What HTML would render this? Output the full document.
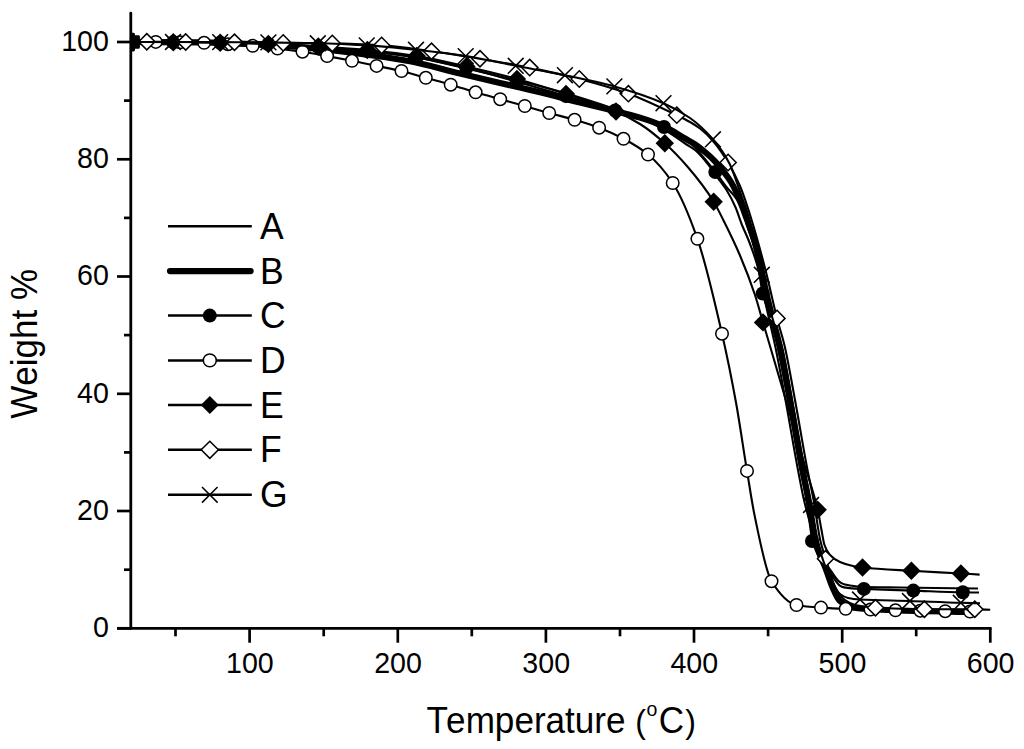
<!DOCTYPE html>
<html><head><meta charset="utf-8"><style>
html,body{margin:0;padding:0;background:#fff;overflow:hidden;}
svg{display:block;}
text{font-family:"Liberation Sans", sans-serif;fill:#000;font-kerning:none;}
</style></head><body>
<svg width="1024" height="749" viewBox="0 0 1024 749">
<rect width="1024" height="749" fill="#fff"/>
<line x1="130.8" y1="13.2" x2="130.8" y2="628.4" stroke="#000" stroke-width="2.8" stroke-linecap="round"/>
<line x1="117" y1="628.4" x2="991.6" y2="628.4" stroke="#000" stroke-width="2.8"/>
<line x1="117.0" y1="628.3" x2="131" y2="628.3" stroke="#000" stroke-width="2.7"/>
<line x1="124.0" y1="569.7" x2="131" y2="569.7" stroke="#000" stroke-width="2.7"/>
<line x1="117.0" y1="511.0" x2="131" y2="511.0" stroke="#000" stroke-width="2.7"/>
<line x1="124.0" y1="452.4" x2="131" y2="452.4" stroke="#000" stroke-width="2.7"/>
<line x1="117.0" y1="393.8" x2="131" y2="393.8" stroke="#000" stroke-width="2.7"/>
<line x1="124.0" y1="335.1" x2="131" y2="335.1" stroke="#000" stroke-width="2.7"/>
<line x1="117.0" y1="276.5" x2="131" y2="276.5" stroke="#000" stroke-width="2.7"/>
<line x1="124.0" y1="217.9" x2="131" y2="217.9" stroke="#000" stroke-width="2.7"/>
<line x1="117.0" y1="159.3" x2="131" y2="159.3" stroke="#000" stroke-width="2.7"/>
<line x1="124.0" y1="100.6" x2="131" y2="100.6" stroke="#000" stroke-width="2.7"/>
<line x1="117.0" y1="42.0" x2="131" y2="42.0" stroke="#000" stroke-width="2.7"/>
<line x1="175.5" y1="628.3" x2="175.5" y2="636.3" stroke="#000" stroke-width="2.7"/>
<line x1="249.6" y1="628.3" x2="249.6" y2="642.7" stroke="#000" stroke-width="2.7"/>
<line x1="323.7" y1="628.3" x2="323.7" y2="636.3" stroke="#000" stroke-width="2.7"/>
<line x1="397.8" y1="628.3" x2="397.8" y2="642.7" stroke="#000" stroke-width="2.7"/>
<line x1="471.8" y1="628.3" x2="471.8" y2="636.3" stroke="#000" stroke-width="2.7"/>
<line x1="545.9" y1="628.3" x2="545.9" y2="642.7" stroke="#000" stroke-width="2.7"/>
<line x1="620.0" y1="628.3" x2="620.0" y2="636.3" stroke="#000" stroke-width="2.7"/>
<line x1="694.0" y1="628.3" x2="694.0" y2="642.7" stroke="#000" stroke-width="2.7"/>
<line x1="768.1" y1="628.3" x2="768.1" y2="636.3" stroke="#000" stroke-width="2.7"/>
<line x1="842.2" y1="628.3" x2="842.2" y2="642.7" stroke="#000" stroke-width="2.7"/>
<line x1="916.2" y1="628.3" x2="916.2" y2="636.3" stroke="#000" stroke-width="2.7"/>
<line x1="990.3" y1="628.3" x2="990.3" y2="642.7" stroke="#000" stroke-width="2.7"/>
<text transform="translate(108.90,637.10) scale(1,1.058)" text-anchor="end" font-size="28.6">0</text>
<text transform="translate(108.90,519.84) scale(1,1.058)" text-anchor="end" font-size="28.6">20</text>
<text transform="translate(108.90,402.58) scale(1,1.058)" text-anchor="end" font-size="28.6">40</text>
<text transform="translate(108.90,285.32) scale(1,1.058)" text-anchor="end" font-size="28.6">60</text>
<text transform="translate(108.90,168.06) scale(1,1.058)" text-anchor="end" font-size="28.6">80</text>
<text transform="translate(108.90,50.80) scale(1,1.058)" text-anchor="end" font-size="28.6">100</text>
<text transform="translate(249.91,672.80) scale(1,1.058)" text-anchor="middle" font-size="28.6">100</text>
<text transform="translate(398.05,672.80) scale(1,1.058)" text-anchor="middle" font-size="28.6">200</text>
<text transform="translate(546.19,672.80) scale(1,1.058)" text-anchor="middle" font-size="28.6">300</text>
<text transform="translate(694.33,672.80) scale(1,1.058)" text-anchor="middle" font-size="28.6">400</text>
<text transform="translate(842.47,672.80) scale(1,1.058)" text-anchor="middle" font-size="28.6">500</text>
<text transform="translate(990.61,672.80) scale(1,1.058)" text-anchor="middle" font-size="28.6">600</text>
<text transform="translate(37.00,343.80) rotate(-90) scale(1,1.04)" text-anchor="middle" font-size="35">Weight %</text>
<text transform="translate(426.50,732.80) scale(1,1.052)" text-anchor="start" font-size="35.1">T<tspan dx="-1.8">emperature</tspan> <tspan font-size="32">(</tspan><tspan dy="-16.3" dx="0.6" font-size="19.5">o</tspan><tspan dy="16.3" dx="1.4">C</tspan><tspan font-size="32" dx="1.0">)</tspan></text>
<defs><clipPath id="pc"><rect x="131" y="0" width="893" height="628.3"/></clipPath></defs>
<g clip-path="url(#pc)">
<path d="M131.00,42.00 C154.00,42.07 177.00,42.08 200.00,42.20 C223.33,42.32 246.67,43.14 270.00,44.00 C296.67,44.99 323.33,47.16 350.00,49.50 C370.00,51.25 390.00,53.48 410.00,56.50 C431.67,59.77 453.33,65.53 475.00,70.50 C502.67,76.85 530.33,83.30 558.00,91.00 C572.00,94.89 586.00,99.40 600.00,104.00 C613.33,108.38 626.67,112.54 640.00,118.00 C648.33,121.41 656.67,125.31 665.00,130.00 C672.17,134.04 679.33,139.78 686.50,144.50 C689.33,146.37 692.17,147.75 695.00,150.00 C698.33,152.65 701.67,156.62 705.00,160.50 C707.33,163.21 709.67,166.34 712.00,169.50 C714.67,173.12 717.33,177.24 720.00,181.00 C722.17,184.05 724.33,186.54 726.50,190.00 C729.53,194.84 732.57,200.58 735.60,207.50 C737.73,212.37 739.87,219.66 742.00,225.00 C744.17,230.42 746.33,234.50 748.50,240.00 C751.17,246.76 753.83,253.67 756.50,262.70 C758.17,268.34 759.83,275.66 761.50,283.00 C763.50,291.80 765.50,302.77 767.50,312.00 C770.00,323.54 772.50,333.10 775.00,345.00 C778.50,361.66 782.00,381.07 785.50,400.00 C789.67,422.53 793.83,448.13 798.00,470.00 C800.00,480.50 802.00,491.37 804.00,500.00 C806.67,511.51 809.33,520.61 812.00,530.00 C814.00,537.04 816.00,545.56 818.00,550.00 C820.00,554.44 822.00,556.74 824.00,560.00 C825.67,562.72 827.33,565.49 829.00,568.00 C830.17,569.76 831.33,571.29 832.50,573.00 C833.50,574.46 834.50,576.17 835.50,577.50 C836.33,578.61 837.17,579.72 838.00,580.50 C839.00,581.44 840.00,582.25 841.00,582.80 C842.33,583.54 843.67,584.14 845.00,584.50 C847.33,585.13 849.67,585.45 852.00,585.80 C854.67,586.20 857.33,586.70 860.00,586.80 C873.33,587.29 886.67,587.30 900.00,587.50 C926.00,587.89 952.00,588.17 978.00,588.50" fill="none" stroke="#000" stroke-width="2.1" stroke-linejoin="round" stroke-linecap="butt"/>
<path d="M131.00,42.00 C154.00,42.13 177.00,42.17 200.00,42.40 C223.33,42.63 246.67,43.78 270.00,45.00 C296.67,46.39 323.33,49.24 350.00,52.30 C370.00,54.60 390.00,57.56 410.00,61.30 C426.67,64.42 443.33,69.51 460.00,73.50 C480.00,78.29 500.00,82.90 520.00,87.60 C526.67,89.17 533.33,90.68 540.00,92.30 C553.33,95.55 566.67,99.18 580.00,102.50 C590.00,104.99 600.00,107.29 610.00,109.80 C620.00,112.31 630.00,114.54 640.00,117.60 C648.00,120.05 656.00,122.80 664.00,126.40 C671.00,129.55 678.00,134.45 685.00,138.50 C688.33,140.43 691.67,142.09 695.00,144.30 C698.33,146.51 701.67,149.19 705.00,152.00 C708.33,154.81 711.67,157.79 715.00,161.30 C718.33,164.81 721.67,168.99 725.00,173.40 C727.00,176.04 729.00,178.72 731.00,182.00 C733.00,185.28 735.00,189.45 737.00,193.50 C739.17,197.89 741.33,201.90 743.50,207.50 C745.33,212.23 747.17,219.33 749.00,225.00 C751.33,232.21 753.67,237.64 756.00,246.00 C757.83,252.57 759.67,261.53 761.50,270.00 C763.00,276.93 764.50,285.35 766.00,292.00 C768.33,302.34 770.67,310.78 773.00,320.00 C775.13,328.43 777.27,335.60 779.40,345.00 C782.93,360.57 786.47,380.99 790.00,400.00 C794.17,422.42 798.33,448.34 802.50,470.00 C804.53,480.57 806.57,489.20 808.60,500.00 C810.90,512.22 813.20,530.45 815.50,540.00 C817.00,546.23 818.50,550.83 820.00,555.00 C821.83,560.10 823.67,563.35 825.50,568.00 C827.77,573.75 830.03,581.61 832.30,586.70 C834.77,592.24 837.23,598.32 839.70,600.70 C842.47,603.37 845.23,605.10 848.00,606.00 C852.00,607.30 856.00,608.14 860.00,608.50 C873.33,609.71 886.67,610.10 900.00,610.50 C925.00,611.25 950.00,611.50 975.00,612.00" fill="none" stroke="#000" stroke-width="6.2" stroke-linejoin="round" stroke-linecap="round"/>
<path d="M131.00,42.00 C144.00,42.07 157.00,42.11 170.00,42.20 C186.00,42.31 202.00,42.52 218.00,42.80 C234.67,43.09 251.33,43.66 268.00,44.30 C284.67,44.94 301.33,45.92 318.00,47.00 C334.33,48.06 350.67,49.36 367.00,51.00 C383.60,52.67 400.20,54.82 416.80,57.50 C433.33,60.17 449.87,64.06 466.40,68.00 C482.93,71.94 499.47,76.84 516.00,81.50 C532.53,86.16 549.07,91.17 565.60,96.00 C582.13,100.83 598.67,105.58 615.20,110.50 C623.47,112.96 631.73,115.23 640.00,118.00 C648.00,120.68 656.00,123.35 664.00,127.00 C672.00,130.65 680.00,134.88 688.00,141.00 C697.10,147.97 706.20,160.61 715.30,172.00 C718.87,176.46 722.43,181.98 726.00,186.50 C729.50,190.94 733.00,193.31 736.50,199.00 C739.33,203.61 742.17,212.47 745.00,220.00 C747.33,226.20 749.67,232.17 752.00,240.00 C753.83,246.15 755.67,253.15 757.50,262.00 C759.23,270.37 760.97,286.08 762.70,293.50 C765.47,305.35 768.23,310.24 771.00,320.00 C773.13,327.53 775.27,335.60 777.40,345.00 C780.93,360.57 784.47,380.99 788.00,400.00 C792.17,422.42 796.33,448.34 800.50,470.00 C802.53,480.57 804.57,488.28 806.60,500.00 C808.57,511.34 810.53,533.57 812.50,541.00 C814.00,546.67 815.50,549.93 817.00,553.00 C818.83,556.75 820.67,559.32 822.50,562.00 C824.00,564.20 825.50,565.93 827.00,568.00 C828.17,569.61 829.33,571.20 830.50,573.00 C831.50,574.54 832.50,576.52 833.50,578.00 C834.50,579.48 835.50,580.79 836.50,582.00 C837.50,583.21 838.50,584.63 839.50,585.30 C841.00,586.31 842.50,587.09 844.00,587.40 C846.67,587.96 849.33,588.23 852.00,588.40 C855.97,588.66 859.93,588.75 863.90,588.90 C880.37,589.54 896.83,590.03 913.30,590.60 C929.80,591.17 946.30,592.02 962.80,592.30 C968.20,592.39 973.60,592.43 979.00,592.50" fill="none" stroke="#000" stroke-width="2.1" stroke-linejoin="round" stroke-linecap="butt"/>
<circle cx="131.0" cy="42.0" r="7.0" fill="#000"/>
<circle cx="173.3" cy="42.2" r="7.0" fill="#000"/>
<circle cx="220.2" cy="42.8" r="7.0" fill="#000"/>
<circle cx="268.4" cy="44.3" r="7.0" fill="#000"/>
<circle cx="318.3" cy="47.0" r="7.0" fill="#000"/>
<circle cx="367.4" cy="51.0" r="7.0" fill="#000"/>
<circle cx="416.6" cy="57.5" r="7.0" fill="#000"/>
<circle cx="466.4" cy="68.0" r="7.0" fill="#000"/>
<circle cx="516.9" cy="81.8" r="7.0" fill="#000"/>
<circle cx="566.0" cy="96.1" r="7.0" fill="#000"/>
<circle cx="615.2" cy="110.5" r="7.0" fill="#000"/>
<circle cx="664.0" cy="127.0" r="7.0" fill="#000"/>
<circle cx="715.3" cy="172.0" r="7.0" fill="#000"/>
<circle cx="762.7" cy="293.5" r="7.0" fill="#000"/>
<circle cx="812.0" cy="541.0" r="7.0" fill="#000"/>
<circle cx="863.9" cy="588.9" r="7.0" fill="#000"/>
<circle cx="913.3" cy="590.6" r="7.0" fill="#000"/>
<circle cx="962.8" cy="592.3" r="7.0" fill="#000"/>
<path d="M131.00,42.00 C139.27,41.97 147.53,41.90 155.80,41.90 C163.87,41.90 171.93,42.15 180.00,42.30 C188.03,42.45 196.07,42.55 204.10,42.80 C212.07,43.04 220.03,43.71 228.00,44.20 C236.23,44.71 244.47,45.12 252.70,45.80 C260.97,46.48 269.23,47.62 277.50,48.60 C285.83,49.58 294.17,50.48 302.50,51.70 C310.70,52.90 318.90,54.59 327.10,56.10 C335.40,57.62 343.70,59.16 352.00,60.80 C360.20,62.42 368.40,64.21 376.60,65.90 C384.90,67.61 393.20,69.04 401.50,71.00 C409.60,72.92 417.70,75.54 425.80,77.80 C434.10,80.11 442.40,82.29 450.70,84.70 C459.00,87.11 467.30,89.87 475.60,92.30 C483.80,94.70 492.00,96.92 500.20,99.20 C508.40,101.48 516.60,103.69 524.80,106.00 C532.93,108.29 541.07,110.75 549.20,113.00 C557.67,115.35 566.13,117.32 574.60,119.80 C582.77,122.19 590.93,124.62 599.10,127.70 C607.23,130.77 615.37,134.47 623.50,138.80 C631.67,143.14 639.83,147.77 648.00,154.50 C656.23,161.28 664.47,170.42 672.70,183.00 C680.93,195.58 689.17,215.33 697.40,238.80 C705.60,262.17 713.80,297.86 722.00,333.70 C726.67,354.10 731.33,376.76 736.00,402.50 C739.67,422.72 743.33,448.78 747.00,470.90 C749.50,485.98 752.00,502.97 754.50,515.00 C760.17,542.27 765.83,572.18 771.50,581.20 C779.83,594.46 788.17,603.41 796.50,605.00 C804.67,606.56 812.83,607.06 821.00,607.60 C829.23,608.15 837.47,608.51 845.70,608.80 C853.97,609.10 862.23,609.25 870.50,609.50 C878.83,609.75 887.17,610.12 895.50,610.30 C903.77,610.48 912.03,610.55 920.30,610.70 C928.60,610.85 936.90,611.07 945.20,611.20 C953.47,611.32 961.73,611.40 970.00,611.50 C972.67,611.53 975.33,611.57 978.00,611.60" fill="none" stroke="#000" stroke-width="2.1" stroke-linejoin="round" stroke-linecap="butt"/>
<circle cx="155.8" cy="41.9" r="6.25" fill="#fff" stroke="#000" stroke-width="1.5"/>
<circle cx="180.0" cy="42.3" r="6.25" fill="#fff" stroke="#000" stroke-width="1.5"/>
<circle cx="204.1" cy="42.8" r="6.25" fill="#fff" stroke="#000" stroke-width="1.5"/>
<circle cx="228.0" cy="44.2" r="6.25" fill="#fff" stroke="#000" stroke-width="1.5"/>
<circle cx="252.7" cy="45.8" r="6.25" fill="#fff" stroke="#000" stroke-width="1.5"/>
<circle cx="277.5" cy="48.6" r="6.25" fill="#fff" stroke="#000" stroke-width="1.5"/>
<circle cx="302.5" cy="51.7" r="6.25" fill="#fff" stroke="#000" stroke-width="1.5"/>
<circle cx="327.1" cy="56.1" r="6.25" fill="#fff" stroke="#000" stroke-width="1.5"/>
<circle cx="352.0" cy="60.8" r="6.25" fill="#fff" stroke="#000" stroke-width="1.5"/>
<circle cx="376.6" cy="65.9" r="6.25" fill="#fff" stroke="#000" stroke-width="1.5"/>
<circle cx="401.5" cy="71.0" r="6.25" fill="#fff" stroke="#000" stroke-width="1.5"/>
<circle cx="425.8" cy="77.8" r="6.25" fill="#fff" stroke="#000" stroke-width="1.5"/>
<circle cx="450.7" cy="84.7" r="6.25" fill="#fff" stroke="#000" stroke-width="1.5"/>
<circle cx="475.6" cy="92.3" r="6.25" fill="#fff" stroke="#000" stroke-width="1.5"/>
<circle cx="500.2" cy="99.2" r="6.25" fill="#fff" stroke="#000" stroke-width="1.5"/>
<circle cx="524.8" cy="106.0" r="6.25" fill="#fff" stroke="#000" stroke-width="1.5"/>
<circle cx="549.2" cy="113.0" r="6.25" fill="#fff" stroke="#000" stroke-width="1.5"/>
<circle cx="574.6" cy="119.8" r="6.25" fill="#fff" stroke="#000" stroke-width="1.5"/>
<circle cx="599.1" cy="127.7" r="6.25" fill="#fff" stroke="#000" stroke-width="1.5"/>
<circle cx="623.5" cy="138.8" r="6.25" fill="#fff" stroke="#000" stroke-width="1.5"/>
<circle cx="648.0" cy="154.5" r="6.25" fill="#fff" stroke="#000" stroke-width="1.5"/>
<circle cx="672.7" cy="183.0" r="6.25" fill="#fff" stroke="#000" stroke-width="1.5"/>
<circle cx="697.4" cy="238.8" r="6.25" fill="#fff" stroke="#000" stroke-width="1.5"/>
<circle cx="722.0" cy="333.7" r="6.25" fill="#fff" stroke="#000" stroke-width="1.5"/>
<circle cx="747.0" cy="470.9" r="6.25" fill="#fff" stroke="#000" stroke-width="1.5"/>
<circle cx="771.5" cy="581.2" r="6.25" fill="#fff" stroke="#000" stroke-width="1.5"/>
<circle cx="796.5" cy="605.0" r="6.25" fill="#fff" stroke="#000" stroke-width="1.5"/>
<circle cx="821.0" cy="607.6" r="6.25" fill="#fff" stroke="#000" stroke-width="1.5"/>
<circle cx="845.7" cy="608.8" r="6.25" fill="#fff" stroke="#000" stroke-width="1.5"/>
<circle cx="870.5" cy="609.5" r="6.25" fill="#fff" stroke="#000" stroke-width="1.5"/>
<circle cx="895.5" cy="610.3" r="6.25" fill="#fff" stroke="#000" stroke-width="1.5"/>
<circle cx="920.3" cy="610.7" r="6.25" fill="#fff" stroke="#000" stroke-width="1.5"/>
<circle cx="945.2" cy="611.2" r="6.25" fill="#fff" stroke="#000" stroke-width="1.5"/>
<circle cx="970.0" cy="611.5" r="6.25" fill="#fff" stroke="#000" stroke-width="1.5"/>
<path d="M131.00,42.00 C145.10,42.07 159.20,42.10 173.30,42.20 C188.93,42.31 204.57,42.54 220.20,42.80 C236.27,43.07 252.33,43.47 268.40,44.00 C285.03,44.55 301.67,45.52 318.30,46.50 C334.67,47.46 351.03,48.53 367.40,50.00 C383.80,51.48 400.20,53.47 416.60,56.00 C433.20,58.56 449.80,62.72 466.40,66.50 C483.23,70.33 500.07,74.39 516.90,79.00 C533.27,83.48 549.63,88.66 566.00,94.00 C582.67,99.44 599.33,104.36 616.00,111.50 C624.00,114.93 632.00,119.01 640.00,124.00 C648.27,129.15 656.53,135.95 664.80,143.30 C672.53,150.18 680.27,158.29 688.00,167.30 C696.57,177.28 705.13,187.86 713.70,201.70 C716.90,206.87 720.10,213.60 723.30,220.00 C728.87,231.13 734.43,242.38 740.00,255.50 C745.00,267.28 750.00,279.91 755.00,295.00 C757.67,303.05 760.33,313.34 763.00,322.40 C765.23,329.99 767.47,337.43 769.70,345.00 C775.47,364.54 781.23,384.24 787.00,404.00 C793.00,424.56 799.00,445.34 805.00,466.00 C809.23,480.57 813.47,491.26 817.70,509.70 C818.97,515.22 820.23,523.47 821.50,530.00 C822.50,535.16 823.50,542.21 824.50,545.00 C826.33,550.12 828.17,553.06 830.00,555.00 C833.33,558.52 836.67,560.54 840.00,562.00 C844.30,563.88 848.60,565.12 852.90,566.00 C856.10,566.65 859.30,567.17 862.50,567.50 C878.80,569.19 895.10,569.82 911.40,570.80 C927.90,571.80 944.40,572.56 960.90,573.50 C967.13,573.85 973.37,574.23 979.60,574.60" fill="none" stroke="#000" stroke-width="2.1" stroke-linejoin="round" stroke-linecap="butt"/>
<path d="M131.0,32.8L140.2,42.0L131.0,51.2L121.8,42.0Z" fill="#000"/>
<path d="M173.3,33.0L182.5,42.2L173.3,51.4L164.1,42.2Z" fill="#000"/>
<path d="M220.2,33.6L229.4,42.8L220.2,52.0L211.0,42.8Z" fill="#000"/>
<path d="M268.4,34.8L277.6,44.0L268.4,53.2L259.2,44.0Z" fill="#000"/>
<path d="M318.3,37.3L327.5,46.5L318.3,55.7L309.1,46.5Z" fill="#000"/>
<path d="M367.4,40.8L376.6,50.0L367.4,59.2L358.2,50.0Z" fill="#000"/>
<path d="M416.6,46.8L425.8,56.0L416.6,65.2L407.4,56.0Z" fill="#000"/>
<path d="M466.4,57.3L475.6,66.5L466.4,75.7L457.2,66.5Z" fill="#000"/>
<path d="M516.9,69.8L526.1,79.0L516.9,88.2L507.7,79.0Z" fill="#000"/>
<path d="M566.0,84.8L575.2,94.0L566.0,103.2L556.8,94.0Z" fill="#000"/>
<path d="M616.0,102.3L625.2,111.5L616.0,120.7L606.8,111.5Z" fill="#000"/>
<path d="M664.8,134.1L674.0,143.3L664.8,152.5L655.6,143.3Z" fill="#000"/>
<path d="M713.7,192.5L722.9,201.7L713.7,210.9L704.5,201.7Z" fill="#000"/>
<path d="M763.0,313.2L772.2,322.4L763.0,331.6L753.8,322.4Z" fill="#000"/>
<path d="M817.7,500.5L826.9,509.7L817.7,518.9L808.5,509.7Z" fill="#000"/>
<path d="M862.5,558.3L871.7,567.5L862.5,576.7L853.3,567.5Z" fill="#000"/>
<path d="M911.4,561.6L920.6,570.8L911.4,580.0L902.2,570.8Z" fill="#000"/>
<path d="M960.9,564.3L970.1,573.5L960.9,582.7L951.7,573.5Z" fill="#000"/>
<path d="M131.00,42.00 C136.27,41.93 141.53,41.80 146.80,41.80 C159.77,41.80 172.73,41.93 185.70,42.00 C201.97,42.09 218.23,42.17 234.50,42.30 C250.73,42.43 266.97,42.72 283.20,42.90 C299.57,43.08 315.93,43.13 332.30,43.40 C348.73,43.67 365.17,44.41 381.60,45.40 C398.23,46.40 414.87,49.07 431.50,51.30 C447.67,53.47 463.83,56.13 480.00,58.80 C496.57,61.53 513.13,64.29 529.70,67.60 C546.23,70.91 562.77,74.70 579.30,79.00 C595.67,83.26 612.03,87.84 628.40,93.70 C644.53,99.47 660.67,107.39 676.80,115.20 C681.20,117.33 685.60,119.46 690.00,122.00 C693.33,123.93 696.67,125.94 700.00,128.50 C704.33,131.83 708.67,136.05 713.00,141.00 C718.03,146.75 723.07,154.12 728.10,162.50 C732.07,169.11 736.03,176.64 740.00,186.00 C743.67,194.65 747.33,206.26 751.00,218.00 C756.00,234.00 761.00,252.50 766.00,272.00 C769.67,286.30 773.33,304.24 777.00,318.40 C779.47,327.92 781.93,334.64 784.40,345.00 C787.93,359.85 791.47,380.99 795.00,400.00 C799.17,422.42 803.33,448.34 807.50,470.00 C809.53,480.57 811.57,488.97 813.60,500.00 C815.80,511.93 818.00,530.28 820.20,540.00 C821.97,547.80 823.73,552.76 825.50,558.70 C826.67,562.62 827.83,566.37 829.00,570.00 C830.33,574.15 831.67,578.78 833.00,582.00 C834.67,586.03 836.33,589.54 838.00,592.00 C840.33,595.45 842.67,598.34 845.00,600.00 C848.33,602.37 851.67,604.23 855.00,605.00 C861.83,606.57 868.67,607.44 875.50,607.80 C891.80,608.65 908.10,609.14 924.40,609.20 C941.20,609.26 958.00,609.23 974.80,609.30 C979.93,609.32 985.07,609.63 990.20,609.80" fill="none" stroke="#000" stroke-width="2.1" stroke-linejoin="round" stroke-linecap="butt"/>
<path d="M146.8,33.6L155.0,41.8L146.8,49.9L138.7,41.8Z" fill="#fff" stroke="#000" stroke-width="1.5" stroke-linejoin="miter"/>
<path d="M185.7,33.9L193.8,42.0L185.7,50.1L177.5,42.0Z" fill="#fff" stroke="#000" stroke-width="1.5" stroke-linejoin="miter"/>
<path d="M234.5,34.1L242.7,42.3L234.5,50.4L226.3,42.3Z" fill="#fff" stroke="#000" stroke-width="1.5" stroke-linejoin="miter"/>
<path d="M283.2,34.8L291.3,42.9L283.2,51.0L275.1,42.9Z" fill="#fff" stroke="#000" stroke-width="1.5" stroke-linejoin="miter"/>
<path d="M332.3,35.2L340.4,43.4L332.3,51.5L324.2,43.4Z" fill="#fff" stroke="#000" stroke-width="1.5" stroke-linejoin="miter"/>
<path d="M381.6,37.2L389.8,45.4L381.6,53.5L373.5,45.4Z" fill="#fff" stroke="#000" stroke-width="1.5" stroke-linejoin="miter"/>
<path d="M431.5,43.1L439.6,51.3L431.5,59.4L423.4,51.3Z" fill="#fff" stroke="#000" stroke-width="1.5" stroke-linejoin="miter"/>
<path d="M480.0,50.6L488.1,58.8L480.0,66.9L471.9,58.8Z" fill="#fff" stroke="#000" stroke-width="1.5" stroke-linejoin="miter"/>
<path d="M529.7,59.4L537.9,67.6L529.7,75.8L521.6,67.6Z" fill="#fff" stroke="#000" stroke-width="1.5" stroke-linejoin="miter"/>
<path d="M579.3,70.8L587.4,79.0L579.3,87.2L571.1,79.0Z" fill="#fff" stroke="#000" stroke-width="1.5" stroke-linejoin="miter"/>
<path d="M628.4,85.6L636.5,93.7L628.4,101.8L620.2,93.7Z" fill="#fff" stroke="#000" stroke-width="1.5" stroke-linejoin="miter"/>
<path d="M676.8,107.1L684.9,115.2L676.8,123.3L668.6,115.2Z" fill="#fff" stroke="#000" stroke-width="1.5" stroke-linejoin="miter"/>
<path d="M728.1,154.3L736.2,162.5L728.1,170.7L720.0,162.5Z" fill="#fff" stroke="#000" stroke-width="1.5" stroke-linejoin="miter"/>
<path d="M777.0,310.2L785.1,318.4L777.0,326.5L768.9,318.4Z" fill="#fff" stroke="#000" stroke-width="1.5" stroke-linejoin="miter"/>
<path d="M825.5,550.6L833.6,558.7L825.5,566.9L817.4,558.7Z" fill="#fff" stroke="#000" stroke-width="1.5" stroke-linejoin="miter"/>
<path d="M875.5,599.6L883.6,607.8L875.5,615.9L867.4,607.8Z" fill="#fff" stroke="#000" stroke-width="1.5" stroke-linejoin="miter"/>
<path d="M924.4,601.1L932.5,609.2L924.4,617.4L916.2,609.2Z" fill="#fff" stroke="#000" stroke-width="1.5" stroke-linejoin="miter"/>
<path d="M974.8,601.1L982.9,609.3L974.8,617.4L966.6,609.3Z" fill="#fff" stroke="#000" stroke-width="1.5" stroke-linejoin="miter"/>
<path d="M128,32.8H133.5Q135,32.8 135,34.6V35.2H138.5Q139.9,35.2 139.9,36.6V47.2Q139.9,48.7 138.5,48.7H135V49.5Q135,51.4 133.5,51.4H128Z" fill="#000"/>
<path d="M131.00,42.00 C143.67,42.00 156.33,42.00 169.00,42.00 C184.60,42.00 200.20,42.05 215.80,42.10 C232.03,42.15 248.27,42.25 264.50,42.40 C282.00,42.56 299.50,42.87 317.00,43.30 C333.57,43.71 350.13,44.45 366.70,45.40 C383.13,46.34 399.57,48.08 416.00,49.80 C432.57,51.53 449.13,53.56 465.70,56.10 C482.37,58.66 499.03,62.59 515.70,65.80 C532.10,68.96 548.50,71.80 564.90,75.20 C581.40,78.62 597.90,81.90 614.40,86.40 C630.77,90.86 647.13,96.08 663.50,103.20 C672.33,107.04 681.17,111.80 690.00,118.00 C697.63,123.36 705.27,130.50 712.90,139.30 C718.50,145.76 724.10,153.08 729.70,164.00 C732.90,170.24 736.10,180.57 739.30,189.70 C741.53,196.07 743.77,202.58 746.00,210.00 C748.00,216.65 750.00,224.08 752.00,232.00 C755.27,244.93 758.53,260.84 761.80,274.80 C764.20,285.06 766.60,295.63 769.00,305.00 C771.00,312.81 773.00,320.62 775.00,327.00 C777.13,333.80 779.27,337.40 781.40,345.00 C784.93,357.58 788.47,380.99 792.00,400.00 C796.17,422.42 800.33,447.17 804.50,470.00 C806.67,481.87 808.83,493.06 811.00,505.00 C813.07,516.39 815.13,531.18 817.20,540.00 C819.13,548.26 821.07,554.39 823.00,560.00 C825.00,565.80 827.00,570.33 829.00,575.00 C830.67,578.89 832.33,583.21 834.00,586.00 C836.00,589.35 838.00,592.51 840.00,594.00 C842.67,595.98 845.33,597.44 848.00,598.00 C852.00,598.83 856.00,599.28 860.00,599.50 C876.63,600.42 893.27,600.46 909.90,601.00 C926.87,601.55 943.83,602.37 960.80,602.80 C967.20,602.96 973.60,603.07 980.00,603.20" fill="none" stroke="#000" stroke-width="2.1" stroke-linejoin="round" stroke-linecap="butt"/>
<path d="M165.1,34.1L180.9,49.9M180.9,34.1L165.1,49.9" stroke="#000" stroke-width="1.5" fill="none"/>
<path d="M212.3,34.2L228.1,50.0M228.1,34.2L212.3,50.0" stroke="#000" stroke-width="1.5" fill="none"/>
<path d="M260.5,34.5L276.3,50.3M276.3,34.5L260.5,50.3" stroke="#000" stroke-width="1.5" fill="none"/>
<path d="M309.9,35.4L325.7,51.2M325.7,35.4L309.9,51.2" stroke="#000" stroke-width="1.5" fill="none"/>
<path d="M358.8,37.5L374.6,53.3M374.6,37.5L358.8,53.3" stroke="#000" stroke-width="1.5" fill="none"/>
<path d="M408.1,41.9L423.9,57.7M423.9,41.9L408.1,57.7" stroke="#000" stroke-width="1.5" fill="none"/>
<path d="M457.8,48.2L473.6,64.0M473.6,48.2L457.8,64.0" stroke="#000" stroke-width="1.5" fill="none"/>
<path d="M507.8,57.9L523.6,73.7M523.6,57.9L507.8,73.7" stroke="#000" stroke-width="1.5" fill="none"/>
<path d="M557.0,67.3L572.8,83.1M572.8,67.3L557.0,83.1" stroke="#000" stroke-width="1.5" fill="none"/>
<path d="M606.5,78.5L622.3,94.3M622.3,78.5L606.5,94.3" stroke="#000" stroke-width="1.5" fill="none"/>
<path d="M655.6,95.3L671.4,111.1M671.4,95.3L655.6,111.1" stroke="#000" stroke-width="1.5" fill="none"/>
<path d="M705.0,131.4L720.8,147.2M720.8,131.4L705.0,147.2" stroke="#000" stroke-width="1.5" fill="none"/>
<path d="M753.9,266.9L769.7,282.7M769.7,266.9L753.9,282.7" stroke="#000" stroke-width="1.5" fill="none"/>
<path d="M803.1,497.1L818.9,512.9M818.9,497.1L803.1,512.9" stroke="#000" stroke-width="1.5" fill="none"/>
<path d="M852.1,591.6L867.9,607.4M867.9,591.6L852.1,607.4" stroke="#000" stroke-width="1.5" fill="none"/>
<path d="M902.0,593.1L917.8,608.9M917.8,593.1L902.0,608.9" stroke="#000" stroke-width="1.5" fill="none"/>
<path d="M952.9,594.9L968.7,610.7M968.7,594.9L952.9,610.7" stroke="#000" stroke-width="1.5" fill="none"/>
</g>
<line x1="168.0" y1="226.2" x2="251.8" y2="226.2" stroke="#000" stroke-width="2.5"/>
<text transform="translate(260.00,239.00) scale(1,1.04)" text-anchor="start" font-size="35.5">A</text>
<line x1="170.0" y1="271.1" x2="250.6" y2="271.1" stroke="#000" stroke-width="6.2" stroke-linecap="round"/>
<text transform="translate(260.00,283.68) scale(1,1.04)" text-anchor="start" font-size="35.5">B</text>
<line x1="168.0" y1="315.6" x2="251.8" y2="315.6" stroke="#000" stroke-width="2.5"/>
<circle cx="209.8" cy="315.6" r="7" fill="#000"/>
<text transform="translate(260.00,328.36) scale(1,1.04)" text-anchor="start" font-size="35.5">C</text>
<line x1="168.0" y1="360.4" x2="251.8" y2="360.4" stroke="#000" stroke-width="2.5"/>
<circle cx="209.8" cy="360.4" r="6.45" fill="#fff" stroke="#000" stroke-width="1.5"/>
<text transform="translate(260.00,373.04) scale(1,1.04)" text-anchor="start" font-size="35.5">D</text>
<line x1="168.0" y1="405.1" x2="251.8" y2="405.1" stroke="#000" stroke-width="2.5"/>
<path d="M209.8,396.1L218.8,405.1L209.8,414.1L200.8,405.1Z" fill="#000"/>
<text transform="translate(260.00,417.72) scale(1,1.04)" text-anchor="start" font-size="35.5">E</text>
<line x1="168.0" y1="449.8" x2="251.8" y2="449.8" stroke="#000" stroke-width="2.5"/>
<path d="M209.8,441.2L218.4,449.8L209.8,458.4L201.2,449.8Z" fill="#fff" stroke="#000" stroke-width="1.5" stroke-linejoin="miter"/>
<text transform="translate(260.00,462.40) scale(1,1.04)" text-anchor="start" font-size="35.5">F</text>
<line x1="168.0" y1="494.8" x2="251.8" y2="494.8" stroke="#000" stroke-width="2.5"/>
<path d="M202.0,487.0L217.6,502.6M217.6,487.0L202.0,502.6" stroke="#000" stroke-width="1.5" fill="none"/>
<text transform="translate(260.00,507.08) scale(1,1.04)" text-anchor="start" font-size="35.5">G</text>
</svg>
</body></html>
